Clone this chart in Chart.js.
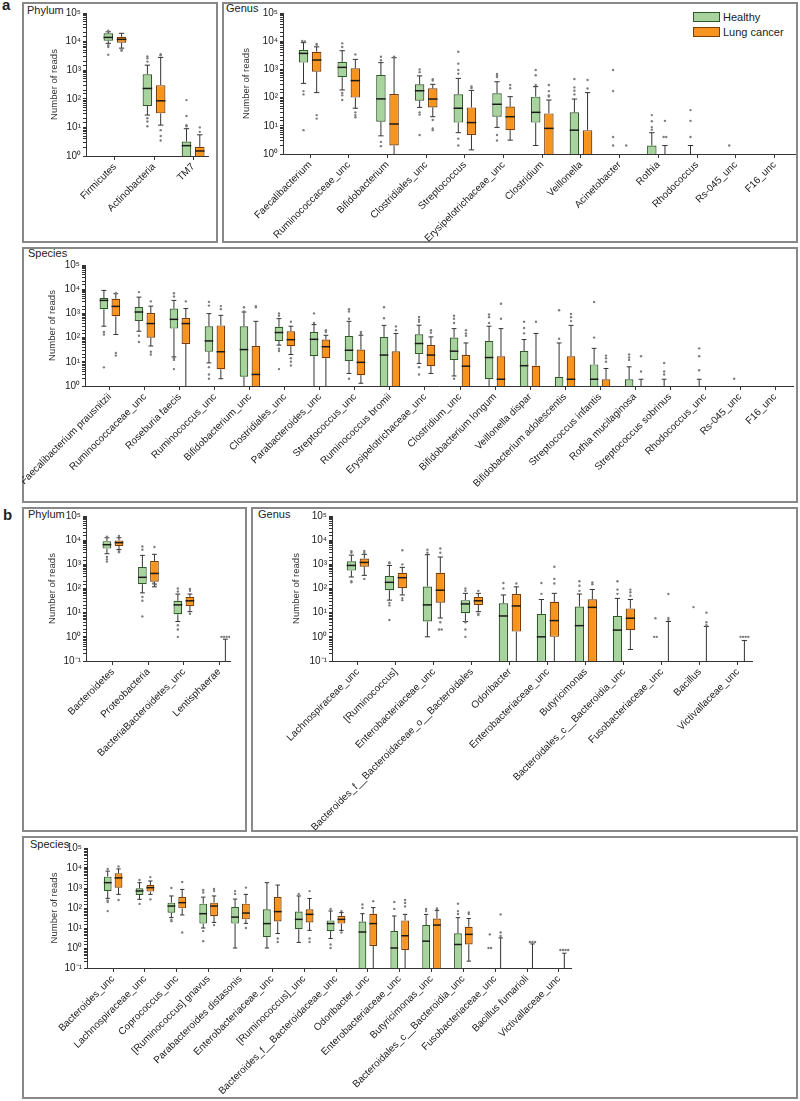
<!DOCTYPE html>
<html>
<head>
<meta charset="utf-8">
<script src="https://cdn.jsdelivr.net/npm/chart.js@4.4.1/dist/chart.umd.min.js"></script>
<style>
  body { margin:0; width:800px; height:1101px; position:relative; background:#fff; overflow:hidden;
         font-family:"Liberation Sans", Arial, sans-serif; color:#222; }
  .panel { position:absolute; border:2px solid #888; box-sizing:border-box; }
  canvas { position:absolute; }
  .tag { position:absolute; font-weight:bold; font-size:15px; line-height:1; }
  .ttl { position:absolute; font-size:11px; line-height:1; }
  .leg { position:absolute; font-size:11px; line-height:1; }
  .sw { position:absolute; width:27px; height:10px; box-sizing:border-box; border:1.5px solid; }
</style>
</head>
<body>
<div class="tag" style="left:2px;top:-3px">a</div>
<div class="tag" style="left:3px;top:507px">b</div>

<div class="panel" style="left:22px;top:2px;width:196px;height:241px"></div>
<div class="panel" style="left:222px;top:2px;width:576px;height:241px"></div>
<div class="panel" style="left:22px;top:247px;width:776px;height:256px"></div>
<div class="panel" style="left:22px;top:507px;width:225px;height:325px"></div>
<div class="panel" style="left:251px;top:507px;width:547px;height:325px"></div>
<div class="panel" style="left:22px;top:836px;width:776px;height:263px"></div>

<div class="ttl" style="left:27px;top:5px">Phylum</div>
<div class="ttl" style="left:226px;top:3px">Genus</div>
<div class="ttl" style="left:28px;top:248px">Species</div>
<div class="ttl" style="left:28px;top:509px">Phylum</div>
<div class="ttl" style="left:258px;top:509px">Genus</div>
<div class="ttl" style="left:30px;top:839px">Species</div>

<div class="sw" style="left:693px;top:12px;background:#a9d39e;border-color:#2d5a27"></div>
<div class="leg" style="left:723px;top:12px">Healthy</div>
<div class="sw" style="left:693px;top:27px;background:#f7941d;border-color:#7a3b06"></div>
<div class="leg" style="left:723px;top:27px">Lung cancer</div>

<script>
// rows are [lower whisker, Q1, median, Q3, upper whisker]; 0 = no reads
const aPhylumLabels = ['Firmicutes', 'Actinobacteria', 'TM7'];
const aPhylumHealthy = [[8700, 10700, 14000, 19500, 22000], [27, 56, 230, 720, 1500], [0, 0, 2.3, 3.2, 9]];
const aPhylumCancer = [[5900, 9100, 12000, 14800, 19500], [12, 31, 85, 300, 2800], [0, 0, 1.5, 2.1, 5.5]];
const aPhylumHealthyOut = [[3500, 6500, 7500, 24000], [21, 16, 11, 2000, 2600, 3000], [11, 12, 25, 90]];
const aPhylumCancerOut = [[4800, 5200], [8, 5, 3.5, 3300, 3600], [7, 10]];

const aGenusLabels = ['Faecalibacterium', 'Ruminococcaceae_unc', 'Bifidobacterium', 'Clostridiales_unc',
  'Streptococcus', 'Erysipelotrichaceae_unc', 'Clostridium', 'Veillonella', 'Acinetobacter', 'Rothia',
  'Rhodococcus', 'Rs-045_unc', 'F16_unc'];
const aGenusHealthy = [[320, 1740, 3700, 4900, 8900], [186, 525, 1180, 1870, 4600], [4.4, 14, 90, 630, 1740],
  [45, 78, 175, 295, 590], [5.7, 13, 42, 132, 480], [8.8, 21, 58, 142, 365], [2, 13, 30, 108, 245],
  [0, 0, 7, 30, 89], [0, 0, 0, 0, 0], [0, 0, 0, 2, 5.7], [0, 0, 0, 0, 2], [0, 0, 0, 0, 0], [0, 0, 0, 0, 0]];
const aGenusCancer = [[150, 830, 2150, 4250, 6300], [42, 100, 400, 1100, 2270], [0, 2, 11.6, 134, 2600],
  [21, 45, 89, 215, 295], [1.4, 4.7, 13, 45, 180], [3.1, 7, 21, 48, 108], [0, 0, 8.1, 27.5, 82],
  [0, 0, 0, 7, 150], [0, 0, 0, 0, 0], [0, 0, 0, 0, 2], [0, 0, 0, 0, 0], [0, 0, 0, 0, 0], [0, 0, 0, 0, 0]];
const aGenusHealthyOut = [[10200, 9800, 170, 130, 7], [8400, 6200, 145, 120, 82], [2800, 2100, 2.7, 1.9],
  [1000, 800, 30, 25, 4.7], [4200, 1600, 950, 700, 3.5, 2], [690, 600, 540, 4.7, 3], [950, 620, 280],
  [455, 230, 176, 130], [950, 170, 4, 2], [24, 14.5, 9, 7.3], [36, 15, 4], [2], []];
const aGenusCancerOut = [[8000, 7500, 24, 18], [3400, 30, 24, 20], [2800], [450, 400, 16, 8, 7], [250, 220],
  [280, 215], [280, 170, 120, 110], [420, 210], [2], [15, 4, 4], [], [], []];

const aSpeciesLabels = ['Faecalibacterium prausnitzii', 'Ruminococcaceae_unc', 'Roseburia faecis',
  'Ruminococcus_unc', 'Bifidobacterium_unc', 'Clostridiales_unc', 'Parabacteroides_unc', 'Streptococcus_unc',
  'Ruminococcus bromii', 'Erysipelotrichaceae_unc', 'Clostridium_unc', 'Bifidobacterium longum',
  'Veillonella dispar', 'Bifidobacterium adolescentis', 'Streptococcus infantis', 'Rothia mucilaginosa',
  'Streptococcus sobrinus', 'Rhodococcus_unc', 'Rs-045_unc', 'F16_unc'];
const aSpeciesHealthy = [[295, 1480, 3450, 4300, 8900], [183, 490, 1140, 1830, 4700], [16, 236, 570, 1580, 3450],
  [9, 26, 73, 295, 980], [0, 2.4, 32, 295, 1140], [49, 73, 162, 280, 610], [0, 17, 85, 170, 345],
  [3.3, 10.7, 30, 117, 470], [0, 0, 19, 107, 320], [8.6, 21, 57, 138, 325], [2.6, 12, 27.5, 100, 235],
  [0, 1.9, 15, 73, 295], [0, 0, 6.9, 28, 83], [0, 0, 0, 2.4, 60], [0, 0, 1.9, 7.8, 36], [0, 0, 0, 1.9, 6.2],
  [0, 0, 0, 0, 1.9], [0, 0, 0, 0, 1.9], [0, 0, 0, 0, 0], [0, 0, 0, 0, 0]];
const aSpeciesCancer = [[134, 760, 1950, 4050, 6500], [45, 98, 380, 1040, 2000], [0, 55, 380, 650, 1580],
  [2, 4.9, 26, 320, 830], [0, 0, 3, 45, 470], [20, 44, 82, 183, 295], [0, 14, 42, 83, 125],
  [1.3, 2.8, 9.5, 32, 125], [0, 0, 0, 27, 148], [3.3, 6.6, 19, 49, 107], [0, 0, 6.6, 19, 60],
  [0, 0, 1.9, 17, 235], [0, 0, 0, 6.9, 148], [0, 0, 1.9, 17, 320], [0, 0, 0, 1.9, 5.3], [0, 0, 0, 0, 1.9],
  [0, 0, 0, 0, 0], [0, 0, 0, 0, 0], [0, 0, 0, 0, 0], [0, 0, 0, 0, 0]];
const aSpeciesHealthyOut = [[170, 134, 5.9], [7600, 120, 66], [6800, 5000, 14, 12, 5], [3000, 2100, 6, 3, 2],
  [1800, 1200], [1000, 800, 35, 28, 5], [1000, 400], [1500, 1200, 600, 2], [1800, 630], [710, 550, 450, 6, 3],
  [800, 600, 400, 2], [900, 700, 400], [450, 250, 150], [1350, 90], [2950, 100], [20, 15, 12], [9, 4, 3],
  [36, 17, 4.5], [2], []];
const aSpeciesCancerOut = [[7000, 23, 18], [3150, 26, 20], [3150], [2000, 1500], [2000, 1800], [450, 14, 10, 7],
  [200, 170], [170, 140], [290, 200], [200, 160], [200, 150, 120], [2500, 600], [450], [950, 700, 480],
  [18, 14, 10], [17, 4], [], [], [], []];

const bPhylumLabels = ['Bacteroidetes', 'Proteobacteria', 'BacteriaBacteroidetes_unc', 'Lentisphaerae'];
const bPhylumHealthy = [[2760, 4470, 6500, 9100, 12600], [66, 150, 290, 780, 2350], [4.3, 8.6, 21, 31, 59], [0, 0, 0, 0, 0]];
const bPhylumCancer = [[4070, 5750, 7900, 9800, 12600], [117, 190, 420, 1380, 2600], [11, 19, 31, 45, 59], [0, 0, 0, 0, 0.8]];
const bPhylumHealthyOut = [[14000, 2000, 1600, 1300], [5500, 4000, 45, 31, 7], [100, 75, 3, 2, 1], []];
const bPhylumCancerOut = [[15000, 3500, 3200], [5200, 160, 150], [95, 80, 9], [1, 1, 1, 1]];

const bGenusLabels = ['Lachnospiraceae_unc', '[Ruminococcus]', 'Enterobacteriaceae_unc',
  'Bacteroides_f__Bacteroidaceae_o__Bacteroidales', 'Odoribacter', 'Enterobacteriaceae_unc', 'Butyricimonas',
  'Bacteroidales_c__Bacteroidia_unc', 'Fusobacteriaceae_unc', 'Bacillus', 'Victivallaceae_unc'];
const bGenusHealthy = [[300, 550, 900, 1350, 2400], [33, 85, 180, 330, 900], [1, 4.3, 21, 120, 2500],
  [4.3, 9.5, 23, 33, 63], [0, 0, 7.3, 24.5, 54], [0, 0, 1, 8.9, 35], [0, 0, 2.9, 18, 59], [0, 0, 1.9, 7.3, 39],
  [0, 0, 0, 0, 0], [0, 0, 0, 0, 0], [0, 0, 0, 0, 0]];
const bGenusCancer = [[350, 800, 1200, 1750, 2600], [54, 105, 280, 450, 750], [6, 26, 85, 450, 2000],
  [11, 21, 31, 45, 63], [0, 1.65, 19, 59, 117], [0, 1, 4.7, 28, 63], [0, 0, 16.6, 36, 91],
  [0.3, 1.9, 5.9, 15, 35], [0, 0, 0, 0, 4.3], [0, 0, 0, 0, 2.7], [0, 0, 0, 0, 0.7]];
const bGenusHealthyOut = [[3500, 3000, 200, 180], [1200, 1100, 25, 20, 5], [4000, 3000], [100, 80, 4, 2, 1],
  [170, 100], [170, 60], [200, 130, 80], [200, 90, 60], [5.9, 1, 1], [17], []];
const bGenusCancerOut = [[3600, 3000, 250], [3800, 1000, 40, 33], [4500, 3000, 4, 2, 2], [80, 9, 8], [160],
  [800, 250, 160], [180, 150], [90, 70, 50], [59, 6, 5], [10, 4, 3], [1, 1, 1, 1]];

const bSpeciesLabels = ['Bacteroides_unc', 'Lachnospiraceae_unc', 'Coprococcus_unc', '[Ruminococcus] gnavus',
  'Parabacteroides distasonis', 'Enterobacteriaceae_unc', '[Ruminococcus]_unc', 'Bacteroides_f__Bacteroidaceae_unc',
  'Odoribacter_unc', 'Enterobacteriaceae_unc', 'Butyricimonas_unc', 'Bacteroidales_c__Bacteroidia_unc',
  'Fusobacteriaceae_unc', 'Bacillus fumarioli', 'Victivallaceae_unc'];
const bSpeciesHealthy = [[305, 700, 1850, 3700, 7000], [270, 450, 710, 960, 1850], [33, 58, 125, 185, 400],
  [10, 16.6, 52, 165, 350], [1, 16.6, 35, 112, 280], [1, 3.5, 16.6, 86, 1850], [1.9, 8.6, 27, 66, 400],
  [3, 7, 16.6, 24, 71], [0, 0, 6.3, 21, 52], [0, 0, 1, 7, 40], [0, 0, 2.2, 14, 48], [0, 0, 1.5, 5.4, 33],
  [0, 0, 0, 0, 0], [0, 0, 0, 0, 0], [0, 0, 0, 0, 0]];
const bSpeciesCancer = [[480, 1040, 3200, 5500, 9000], [480, 660, 1040, 1400, 2240], [45, 96, 185, 355, 850],
  [19, 40, 125, 185, 400], [17, 27, 56, 165, 480], [5.3, 21, 66, 355, 1400], [7.6, 19, 48, 86, 300],
  [7.6, 16.6, 27, 40, 59], [0, 1.26, 16.6, 52, 105], [0, 0.8, 4.1, 24, 48], [0, 0, 14, 30, 76],
  [0.22, 1.5, 4.8, 11.6, 30], [0, 0, 0, 0, 3.2], [0, 0, 0, 0, 1.6], [0, 0, 0, 0, 0.55]];
const bSpeciesHealthyOut = [[9000, 240, 200, 70], [2500, 160], [1000, 25, 22], [800, 600, 7, 2.2], [700, 500], [],
  [500], [90, 1.5, 1], [150, 100], [200, 90], [90, 70], [165, 70, 50], [4.8, 1, 1], [], []];
const bSpeciesCancerOut = [[12000, 250], [3500, 270], [2000, 6], [900, 700, 14], [1050, 10], [3, 2], [700, 3, 2],
  [70, 6], [220], [250, 180, 120], [95, 90], [60, 50], [48, 6, 4], [2, 2, 2], [0.8, 0.8, 0.8, 0.8]];

const GREEN = '#a9d39e', GREEN_LINE = '#2d5a27';
const ORANGE = '#f7941d', ORANGE_LINE = '#7a3b06';
const SUP = { '-': '⁻', '0': '⁰', '1': '¹', '2': '²', '3': '³', '4': '⁴', '5': '⁵' };

Chart.defaults.font.family = '"Liberation Sans", Arial, sans-serif';
Chart.defaults.font.size = 10;
Chart.defaults.color = '#222';

// zero reads can't sit on a log axis, push them below the visible range
const pos = v => (v > 0 ? v : 1e-3);

// panel frames: box = [left, top, right, bottom], plot = [axisX, y at 1e5, axis end, y at min]
const panels = [
  { box: [22, 2, 218, 243], plot: [86, 13, 208, 156], yw: 37, ymin: 1, gapL: 0.74, gapR: 0.38,
    labels: aPhylumLabels, rows: [aPhylumHealthy, aPhylumCancer], outs: [aPhylumHealthyOut, aPhylumCancerOut] },
  { box: [222, 2, 798, 243], plot: [283, 13, 795, 154], yw: 42, ymin: 1, gapL: 0.70, gapR: 0.53,
    labels: aGenusLabels, rows: [aGenusHealthy, aGenusCancer], outs: [aGenusHealthyOut, aGenusCancerOut] },
  { box: [22, 247, 798, 503], plot: [85, 265, 793, 386], yw: 38, ymin: 1, gapL: 0.71, gapR: 0.51,
    labels: aSpeciesLabels, rows: [aSpeciesHealthy, aSpeciesCancer], outs: [aSpeciesHealthyOut, aSpeciesCancerOut] },
  { box: [22, 507, 247, 832], plot: [86, 516, 230, 661], yw: 39, ymin: 0.1, gapL: 0.76, gapR: 0.3,
    labels: bPhylumLabels, rows: [bPhylumHealthy, bPhylumCancer], outs: [bPhylumHealthyOut, bPhylumCancerOut] },
  { box: [251, 507, 798, 832], plot: [332, 516, 752, 661], yw: 41, ymin: 0.1, gapL: 0.68, gapR: 0.37,
    labels: bGenusLabels, rows: [bGenusHealthy, bGenusCancer], outs: [bGenusHealthyOut, bGenusCancerOut] },
  { box: [22, 836, 798, 1099], plot: [87, 848, 571, 968], yw: 38, ymin: 0.1, gapL: 0.82, gapR: 0.38,
    labels: bSpeciesLabels, rows: [bSpeciesHealthy, bSpeciesCancer], outs: [bSpeciesHealthyOut, bSpeciesCancerOut] }
];

// whiskers, medians and outlier dots, placed on the bars the library laid out
function boxParts(p) {
  return {
    id: 'boxParts',
    afterDatasetsDraw(chart) {
      const ctx = chart.ctx, area = chart.chartArea, ys = chart.scales.y;
      const py = v => ys.getPixelForValue(pos(v));
      ctx.save();
      ctx.beginPath();
      ctx.rect(area.left, area.top - 6, area.right - area.left, area.bottom - area.top + 6);
      ctx.clip();
      [0, 1].forEach(d => {
        const meta = chart.getDatasetMeta(d);
        meta.data.forEach((bar, i) => {
          const [wlo, q1, med, q3, whi] = p.rows[d][i];
          const x = bar.x, w = bar.width, cap = w * 0.28;
          ctx.strokeStyle = '#333';
          ctx.lineWidth = 1;
          ctx.beginPath();
          if (whi > q3) {
            ctx.moveTo(x, py(q3)); ctx.lineTo(x, py(whi));
            ctx.moveTo(x - cap, py(whi)); ctx.lineTo(x + cap, py(whi));
          }
          if (q1 > wlo) {
            ctx.moveTo(x, py(q1)); ctx.lineTo(x, py(wlo));
            if (wlo > 0) { ctx.moveTo(x - cap, py(wlo)); ctx.lineTo(x + cap, py(wlo)); }
          }
          ctx.stroke();
          if (med > 0 && q3 > 0) {
            ctx.strokeStyle = '#1a1a1a';
            ctx.lineWidth = 1.5;
            ctx.beginPath();
            ctx.moveTo(x - w / 2, py(med)); ctx.lineTo(x + w / 2, py(med));
            ctx.stroke();
          }
          // equal values sit side by side, like the Prism dots
          const seen = {};
          p.outs[d][i].forEach(v => { const k = Math.round(py(v)); seen[k] = (seen[k] || 0) + 1; });
          const used = {};
          ctx.fillStyle = '#7d7d7d';
          p.outs[d][i].forEach(v => {
            const y = py(v), k = Math.round(y);
            const j = used[k] || 0; used[k] = j + 1;
            const dx = (j - (seen[k] - 1) / 2) * 2.6;
            ctx.beginPath();
            ctx.arc(x + dx, y, 1.2, 0, Math.PI * 2);
            ctx.fill();
          });
        });
      });
      ctx.restore();
    }
  };
}

function makePanel(p) {
  const [L, T, R, B] = p.box;
  const [x0, yTop, x1, yBot] = p.plot;
  const cv = document.createElement('canvas');
  cv.width = R - L;
  cv.height = B - T;
  cv.style.left = L + 'px';
  cv.style.top = T + 'px';
  document.body.appendChild(cv);
  const n = p.labels.length;
  const boxes = rows => rows.map((r, i) => ({ x: i, y: [pos(r[1]), pos(r[3])] }));
  const common = { borderWidth: 1.2, borderSkipped: false, clip: 0, categoryPercentage: 0.68, barPercentage: 0.72 };

  new Chart(cv, {
    type: 'bar',
    data: {
      datasets: [
        Object.assign({ label: 'Healthy', data: boxes(p.rows[0]), backgroundColor: GREEN, borderColor: GREEN_LINE }, common),
        Object.assign({ label: 'Lung cancer', data: boxes(p.rows[1]), backgroundColor: ORANGE, borderColor: ORANGE_LINE }, common)
      ]
    },
    options: {
      responsive: false,
      animation: false,
      events: [],
      devicePixelRatio: 1,
      layout: { padding: { left: x0 - p.yw - L, top: yTop - T, right: R - x1, bottom: 0 } },
      plugins: { legend: { display: false }, tooltip: { enabled: false } },
      scales: {
        x: {
          type: 'linear',
          min: -p.gapL,
          max: n - 1 + p.gapR,
          offset: false,
          grid: { display: true, offset: false, drawOnChartArea: false, drawTicks: true, tickLength: 4, color: '#333' },
          border: { display: true, color: '#333', width: 1 },
          ticks: {
            stepSize: 1,
            includeBounds: false,
            autoSkip: false,
            minRotation: 45,
            maxRotation: 45,
            padding: 1,
            color: '#222',
            font: { size: 10 },
            callback: v => (Number.isInteger(v) ? p.labels[v] : null)
          },
          afterFit: s => { s.height = B - yBot; s.paddingLeft = 0; s.paddingRight = 0; }
        },
        y: {
          type: 'logarithmic',
          min: p.ymin,
          max: 1e5,
          grid: { display: true, drawOnChartArea: false, drawTicks: true, tickLength: 3, color: '#333' },
          border: { display: true, color: '#333', width: 1 },
          ticks: {
            autoSkip: false,
            padding: 2,
            color: '#222',
            font: { size: 10 },
            callback: v => {
              const e = Math.log10(v), r = Math.round(e);
              if (Math.abs(e - r) > 1e-6) return '';
              return '10' + String(r).split('').map(c => SUP[c]).join('');
            }
          },
          title: { display: true, text: 'Number of reads', color: '#333', font: { size: 9.5 }, padding: { top: 0, bottom: 0 } },
          afterFit: s => { s.width = p.yw; s.paddingTop = 0; s.paddingBottom = 0; }
        }
      }
    },
    plugins: [boxParts(p)]
  });
}

panels.forEach(makePanel);
</script>
</body>
</html>
